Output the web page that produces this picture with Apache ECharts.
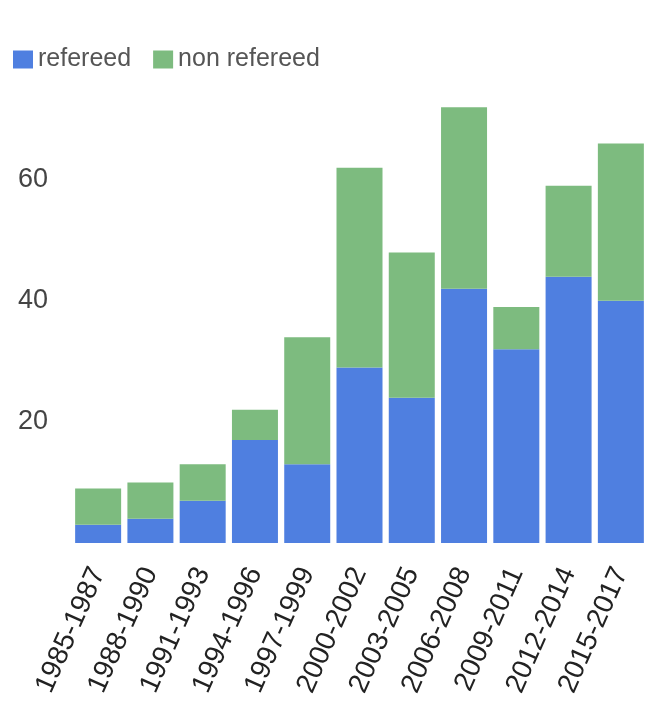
<!DOCTYPE html>
<html>
<head>
<meta charset="utf-8">
<script src="https://cdn.jsdelivr.net/npm/echarts@6/dist/echarts.min.js"></script>
<style>
  html, body { margin: 0; padding: 0; background: #fff; }
  #chart { width: 656px; height: 720px; }
</style>
</head>
<body>
<div id="chart"></div>
<script>
var periods = ['1985-1987', '1988-1990', '1991-1993', '1994-1996', '1997-1999', '2000-2002',
               '2003-2005', '2006-2008', '2009-2011', '2012-2014', '2015-2017'];
var refereed = [3, 4, 7, 17, 13, 29, 24, 42, 32, 44, 40];
var nonRefereed = [6, 6, 6, 5, 21, 33, 24, 30, 7, 15, 26];

var colorBlue = '#4f7fe0';
var colorGreen = '#7dbb7f';

var myChart = echarts.init(document.getElementById('chart'));

var option = {
    animation: false,
    textStyle: { fontFamily: 'Liberation Sans, Arial, sans-serif' },
    legend: {
        left: 8,
        top: 42,
        itemWidth: 20,
        itemHeight: 18,
        itemGap: 22,
        icon: 'rect',
        textStyle: { fontSize: 25, color: '#555' },
        data: ['refereed', 'non refereed']
    },
    grid: {
        left: 72,
        right: 9,
        top: 89,
        bottom: 177
    },
    xAxis: {
        type: 'category',
        data: periods,
        axisLine: { show: false },
        axisTick: { show: false },
        axisLabel: {
            rotate: 66,
            interval: 0,
            margin: 26,
            fontSize: 28,
            color: '#222'
        }
    },
    yAxis: {
        type: 'value',
        min: 0,
        max: 75,
        interval: 20,
        splitLine: { show: false },
        axisLine: { show: false },
        axisTick: { show: false },
        axisLabel: {
            margin: 24,
            fontSize: 27,
            color: '#444',
            showMinLabel: false,
            showMaxLabel: false
        }
    },
    series: [
        {
            name: 'refereed',
            type: 'bar',
            stack: 'total',
            barCategoryGap: '12%',
            itemStyle: { color: colorBlue },
            data: refereed
        },
        {
            name: 'non refereed',
            type: 'bar',
            stack: 'total',
            barCategoryGap: '12%',
            itemStyle: { color: colorGreen },
            data: nonRefereed
        }
    ]
};

myChart.setOption(option);
</script>
</body>
</html>
